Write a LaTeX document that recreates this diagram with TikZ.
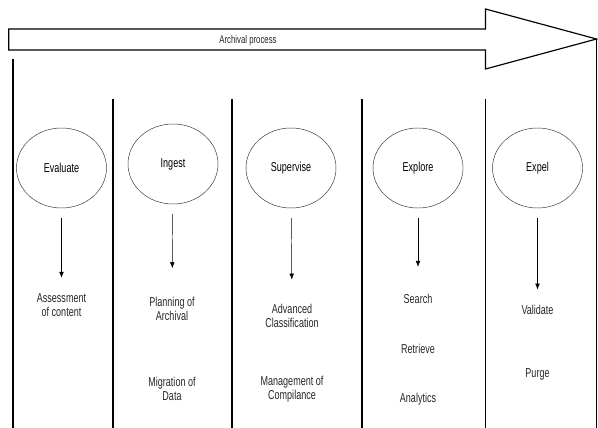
\documentclass[tikz,border=0pt]{standalone}
\usepackage{fontspec}
\setmainfont{Liberation Sans}
\newfontfamily\narrowfont{Liberation Sans}[FakeStretch=0.7]
\usepackage{tikz}
\usetikzlibrary{shapes.geometric, arrows.meta, positioning, calc}

\begin{document}
\begin{tikzpicture}[
        x=0.03cm, y=-0.03cm,
        phase/.style={ellipse, draw=black!80, thin, minimum width=2.7cm, minimum height=2.4cm, font=\narrowfont\fontsize{11}{12}\selectfont},
        item/.style={align=center, font=\narrowfont\fontsize{11}{12}\selectfont, text=black!85},
        lane/.style={line width=1.6pt},
        flow/.style={-{Latex[length=5pt,width=4pt]}, shorten <=0.3cm}
    ]
        \useasboundingbox (0,0) rectangle (598,428);

        % Process arrow
        \draw[line width=1pt, fill=white] (8.7,29) -- (485.5,29) -- (485.5,9) -- (596.5,39)
            -- (485.5,69) -- (485.5,50) -- (8.7,50) -- cycle;
        \node[font=\narrowfont\fontsize{9.5}{10}\selectfont, text=black!85] (process) at (248,40.5) {Archival process};

        % Lanes
        \draw[lane] (12.7,59) -- (12.7,428);
        \foreach \x in {113, 232.3, 362, 485.5} {
            \draw[lane] (\x,99) -- (\x,428);
        }
        \draw[lane] (596.5,39) -- (596.5,428);

        % Phases
        \node[phase] (evaluate) at (61.5,168) {Evaluate};
        \node[phase] (ingest) at (173,164) {Ingest};
        \node[phase] (supervise) at (291,168) {Supervise};
        \node[phase] (explore) at (418,168) {Explore};
        \node[phase] (expel) at (537.5,168) {Expel};

        % Activities
        \node[item] (assess) at (61.5,305) {Assessment\\of content};
        \node[item] (planning) at (172,309) {Planning of\\Archival};
        \node[item] (migration) at (172,389) {Migration of\\Data};
        \node[item] (classify) at (292,316) {Advanced\\Classification};
        \node[item] (compliance) at (292,389) {Management of\\Compilance};
        \node[item] (search) at (418,299) {Search};
        \node[item] (retrieve) at (418,349) {Retrieve};
        \node[item] (analytics) at (418,399) {Analytics};
        \node[item] (validate) at (537.5,310) {Validate};
        \node[item] (purge) at (537.5,374) {Purge};

        % Arrows
        \draw[flow, shorten >=0.35cm] (evaluate) -- (assess);
        \draw[flow, shorten >=0.75cm] (ingest) -- (planning);
        \draw[flow, shorten >=0.62cm] (supervise) -- (classify);
        \draw[flow, shorten >=0.7cm] (explore) -- (search);
        \draw[flow, shorten >=0.35cm] (expel) -- (validate);
    \end{tikzpicture}
\end{document}
